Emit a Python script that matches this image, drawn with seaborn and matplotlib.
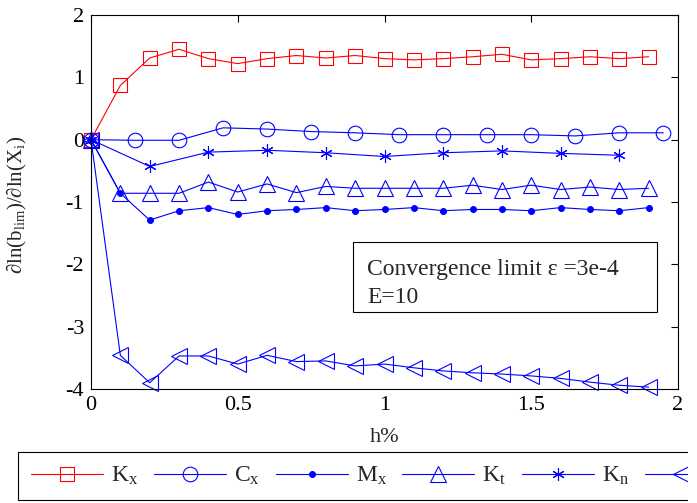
import matplotlib
matplotlib.use('Agg')
import matplotlib.pyplot as plt
from matplotlib.patches import Rectangle
import seaborn as sns
import pandas as pd

# values
h_01 = [0, 0.1, 0.2, 0.3, 0.4, 0.5, 0.6, 0.7, 0.8, 0.9,
        1.0, 1.1, 1.2, 1.3, 1.4, 1.5, 1.6, 1.7, 1.8, 1.9]
h_015 = [0, 0.15, 0.3, 0.45, 0.6, 0.75, 0.9, 1.05, 1.2, 1.35, 1.5, 1.65, 1.8, 1.95]
h_02 = [0, 0.2, 0.4, 0.6, 0.8, 1.0, 1.2, 1.4, 1.6, 1.8]

kx = [0, 0.87, 1.31, 1.45, 1.30, 1.22, 1.30, 1.35, 1.31, 1.35,
      1.30, 1.28, 1.30, 1.33, 1.37, 1.28, 1.30, 1.33, 1.30, 1.33]
cx = [0, -0.01, -0.01, 0.19, 0.17, 0.13, 0.11, 0.08, 0.08, 0.08, 0.08, 0.06, 0.11, 0.11]
mx = [0, -0.86, -1.29, -1.14, -1.09, -1.20, -1.14, -1.12, -1.09, -1.14,
      -1.12, -1.09, -1.14, -1.12, -1.12, -1.14, -1.09, -1.12, -1.14, -1.09]
kt = [0, -0.86, -0.86, -0.86, -0.68, -0.84, -0.71, -0.85, -0.75, -0.78,
      -0.78, -0.78, -0.78, -0.73, -0.80, -0.73, -0.80, -0.76, -0.80, -0.78]
kn = [0, -0.43, -0.20, -0.17, -0.21, -0.27, -0.21, -0.18, -0.22, -0.25]
kr = [0, -3.46, -3.90, -3.47, -3.47, -3.60, -3.46, -3.56, -3.55, -3.63,
      -3.60, -3.66, -3.71, -3.74, -3.76, -3.79, -3.83, -3.89, -3.94, -3.97]

labels = ['K$_{\\rm x}$', 'C$_{\\rm x}$', 'M$_{\\rm x}$', 'K$_{\\rm t}$', 'K$_{\\rm n}$', 'K$_{\\rm r}$']
xticks = [0, 0.5, 1, 1.5, 2]
xticklabels = ['0', '0.5', '1', '1.5', '2']
yticks = [-4, -3, -2, -1, 0, 1, 2]

sns.set_style('white')
serif = ['Liberation Serif', 'DejaVu Serif']
plt.rcParams['font.family'] = serif
plt.rcParams['mathtext.fontset'] = 'custom'
plt.rcParams['mathtext.rm'] = 'Liberation Serif'
plt.rcParams['mathtext.it'] = 'Liberation Serif:italic'
plt.rcParams['axes.unicode_minus'] = False

fig = plt.figure(figsize=(6.97, 5.03), dpi=100)
ax = fig.add_axes([91 / 697, 1 - 389 / 503, 587 / 697, 374 / 503])

red, blue = '#FF0000', '#0000FF'
series = [
    (h_01, kx, red, 's', 10, 'none'),
    (h_015, cx, blue, 'o', 10.5, 'none'),
    (h_01, mx, blue, 'o', 4.2, blue),
    (h_01, kt, blue, '^', 12, 'none'),
    (h_02, kn, blue, (6, 2, 0), 9, blue),
    (h_01, kr, blue, '<', 12, 'none'),
]
for (xs, ys, col, mk, ms, mfc), lab in zip(series, labels):
    d = pd.DataFrame({'h': xs, 'v': ys})
    sns.lineplot(data=d, x='h', y='v', ax=ax, color=col, marker=mk,
                 markersize=ms, markerfacecolor=mfc, markeredgecolor=col,
                 markeredgewidth=0.8, linewidth=0.8, label=lab, legend=False,
                 clip_on=False)

ax.set_xlim(0, 2)
ax.set_ylim(-4, 2)
ax.set_xticks(xticks)
ax.set_xticklabels(xticklabels, family=serif)
ax.set_yticks(yticks)
ax.set_yticklabels([str(t) for t in yticks], family=serif)
ax.tick_params(direction='in', length=5, width=0.8, top=True, right=True,
               labelsize=16, pad=5, colors='black')
for s in ax.spines.values():
    s.set_linewidth(0.8)
    s.set_color('black')

ax.set_xlabel('h%', fontsize=16, family=serif)
ax.xaxis.set_label_coords(0.5, (389 - 438) / 374)
ax.xaxis.label.set_verticalalignment('center')
ax.set_ylabel('∂ln(b$_{\\rm lim}$)/∂ln(X$_{\\rm i}$)', fontsize=15, family=serif)
ax.yaxis.set_label_coords((17 - 91) / 587, (389 - 205) / 374)
ax.yaxis.label.set_verticalalignment('center')

# annotation box
ax.add_patch(Rectangle(((353 - 91) / 587, (389 - 312) / 374), (657 - 353) / 587, 70 / 374,
                       transform=ax.transAxes, fill=False, edgecolor='black',
                       linewidth=0.8, zorder=5))
ax.text((367 - 91) / 587, (389 - 275) / 374, 'Convergence limit ε =3e-4',
        transform=ax.transAxes, fontsize=17, va='baseline', ha='left')
ax.text((367 - 91) / 587, (389 - 302.7) / 374, 'E=10',
        transform=ax.transAxes, fontsize=17, va='baseline', ha='left')

handles, labs = ax.get_legend_handles_labels()
leg = fig.legend(handles, labs, ncol=6, loc='upper left',
                 bbox_to_anchor=(18 / 697, 1 - 452 / 503), bbox_transform=fig.transFigure,
                 borderaxespad=0, fontsize=17, handlelength=3.05, handletextpad=0.34,
                 columnspacing=0.66, borderpad=0.55, fancybox=False, framealpha=1,
                 edgecolor='black')
leg.get_frame().set_linewidth(0.8)

# the reference is cut off at the right and bottom
fig.add_artist(Rectangle((688 / 697, 0), 1, 1, transform=fig.transFigure,
                         facecolor='white', edgecolor='none', zorder=20))
fig.add_artist(Rectangle((0, 0), 1, 1.5 / 503, transform=fig.transFigure,
                         facecolor='white', edgecolor='none', zorder=20))

fig.savefig('out.png', dpi=100)
